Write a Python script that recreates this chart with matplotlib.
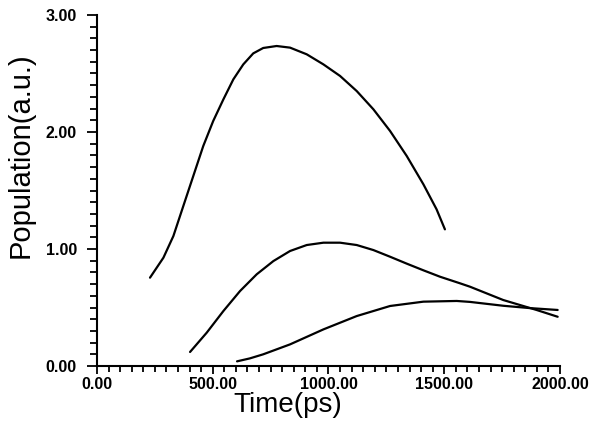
"""Population vs. time for three levels, redrawn from a scanned figure."""

import matplotlib

matplotlib.use("Agg")

import matplotlib.pyplot as plt  # noqa: E402
from matplotlib.ticker import FormatStrFormatter, MultipleLocator  # noqa: E402

# values (time in ps, population in a.u.)
time_a = [229, 287, 330, 373, 416, 459, 502, 546, 589, 632, 675, 718, 776,
          834, 906, 978, 1050, 1122, 1194, 1266, 1338, 1410, 1467, 1503]
pop_a = [0.755, 0.926, 1.111, 1.368, 1.624, 1.880, 2.094, 2.279, 2.450,
         2.578, 2.672, 2.718, 2.735, 2.721, 2.664, 2.578, 2.479, 2.350,
         2.194, 2.009, 1.795, 1.553, 1.339, 1.168]

time_b = [402, 474, 546, 618, 690, 762, 834, 906, 978, 1050, 1122, 1194,
          1266, 1338, 1410, 1482, 1568, 1611, 1755, 1899, 1990]
pop_b = [0.120, 0.285, 0.470, 0.641, 0.784, 0.897, 0.983, 1.034, 1.054,
         1.054, 1.034, 0.991, 0.934, 0.875, 0.818, 0.763, 0.707, 0.678,
         0.564, 0.479, 0.421]

time_c = [605, 660, 718, 834, 978, 1122, 1266, 1410, 1554, 1611, 1755, 1870,
          1990]
pop_c = [0.040, 0.065, 0.100, 0.185, 0.313, 0.427, 0.513, 0.550, 0.556,
         0.548, 0.515, 0.495, 0.479]

x_label = "Time(ps)"
y_label = "Population(a.u.)"

plt.rcParams["font.family"] = ["Liberation Sans", "DejaVu Sans"]

fig = plt.figure(figsize=(5.9, 4.26), dpi=100)
ax = fig.add_axes([0.1644, 0.1408, 0.7847, 0.824])

for t, p in [(time_a, pop_a), (time_b, pop_b), (time_c, pop_c)]:
    ax.plot(t, p, color="black", lw=1.6, solid_capstyle="round",
            solid_joinstyle="round")

ax.set_xlim(0, 2000)
ax.set_ylim(0, 3)

ax.xaxis.set_major_locator(MultipleLocator(500))
ax.xaxis.set_minor_locator(MultipleLocator(50))
ax.yaxis.set_major_locator(MultipleLocator(1))
ax.yaxis.set_minor_locator(MultipleLocator(0.1))
ax.xaxis.set_major_formatter(FormatStrFormatter("%.2f"))
ax.yaxis.set_major_formatter(FormatStrFormatter("%.2f"))

for side in ("top", "right"):
    ax.spines[side].set_visible(False)
for side in ("left", "bottom"):
    ax.spines[side].set_linewidth(1.5)

ax.tick_params(axis="both", which="both", direction="out", width=1.3,
               colors="black")
ax.tick_params(axis="y", which="major", length=7.5, pad=7)
ax.tick_params(axis="y", which="minor", length=5)
ax.tick_params(axis="x", which="major", length=6, pad=2)
ax.tick_params(axis="x", which="minor", length=4)
for lbl in ax.get_xticklabels() + ax.get_yticklabels():
    lbl.set_fontsize(11.5)
    lbl.set_fontweight("bold")

ax.set_xlabel(x_label, fontsize=20)
ax.set_ylabel(y_label, fontsize=21)
ax.xaxis.set_label_coords(0.413, -0.111)
ax.yaxis.set_label_coords(-0.166, 0.60)
ax.xaxis.label.set_va("center")
ax.yaxis.label.set_va("center")

fig.savefig("out.png", dpi=100)
plt.close(fig)
